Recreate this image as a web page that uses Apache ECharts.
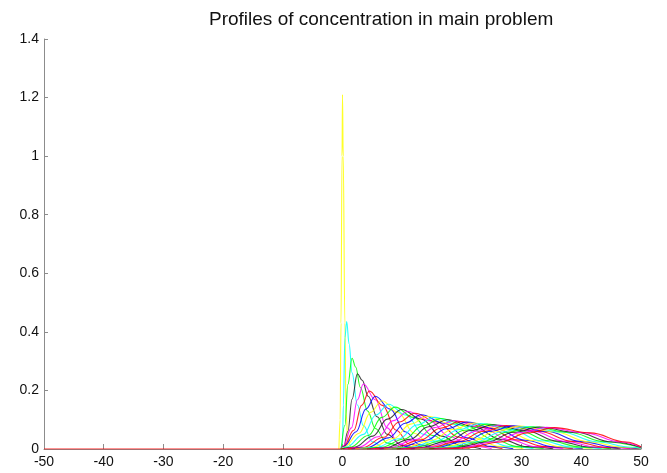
<!DOCTYPE html>
<html>
<head>
<meta charset="utf-8">
<script src="https://cdn.jsdelivr.net/npm/echarts@6/dist/echarts.min.js"></script>
<style>
  html, body { margin: 0; padding: 0; background: #fff; }
  #chart { width: 667px; height: 473px; }
</style>
</head>
<body>
<div id="chart"></div>
<script>
// profiles, [x, concentration]
const curve01 = [[-0.6, 0], [-0.4, 0.1], [-0.25, 0.43], [-0.08, 1.0], [0, 1.21], [0.12, 1.0], [0.4, 0.43], [0.6, 0.12], [0.9, 0.03], [1.4, 0]];
const curve02 = [[-0.3, 0], [0, 0.02], [0.15, 0.15], [0.4, 0.38], [0.7, 0.435], [1.1, 0.36], [1.6, 0.26], [2.5, 0.15], [3.5, 0.08], [5, 0.025], [7, 0.004], [9, 0]];
const curve03 = [[-0.2, 0], [0.4, 0.08], [0.9, 0.22], [1.6, 0.31], [2.2, 0.28], [3, 0.21], [4.2, 0.13], [5.5, 0.07], [7.5, 0.02], [10, 0.002]];
const curve04 = [[0.3, 0], [0.9, 0.06], [1.6, 0.17], [2.5, 0.257], [3.3, 0.235], [4.3, 0.18], [5.8, 0.11], [7.5, 0.05], [10, 0.012], [13, 0]];
const curve05 = [[-0.3, 0], [0.1, 0.01], [1.5, 0.072], [2.5, 0.168], [3.5, 0.222], [5.5, 0.168], [7.5, 0.072], [9.4, 0.018], [11.4, 0.002]];
const curve06 = [[-0.3, 0], [0.2, 0.009], [1.9, 0.064], [3.2, 0.149], [4.5, 0.198], [6.7, 0.149], [9.0, 0.064], [11.2, 0.016], [13.5, 0.002]];
const curve07 = [[-0.3, 0], [0.2, 0.008], [2.3, 0.059], [3.9, 0.136], [5.5, 0.18], [8.0, 0.136], [10.5, 0.059], [13.0, 0.014], [15.4, 0.002]];
const curve08 = [[-0.3, 0], [0.3, 0.007], [2.8, 0.054], [4.7, 0.125], [6.6, 0.165], [9.3, 0.125], [12.0, 0.054], [14.8, 0.013], [17.5, 0.002]];
const curve09 = [[-0.3, 0], [0.7, 0.007], [3.5, 0.05], [5.6, 0.116], [7.7, 0.153], [10.6, 0.116], [13.6, 0.05], [16.5, 0.012], [19.5, 0.002]];
const curve10 = [[-0.3, 0], [1.3, 0.006], [4.3, 0.046], [6.6, 0.108], [8.8, 0.143], [11.9, 0.108], [15.1, 0.046], [18.2, 0.011], [21.3, 0.002]];
const curve11 = [[-0.2, 0], [2.0, 0.006], [5.1, 0.044], [7.5, 0.102], [9.9, 0.135], [13.2, 0.102], [16.6, 0.044], [19.9, 0.011], [23.2, 0.001]];
const curve12 = [[0.3, 0], [2.7, 0.006], [6.0, 0.042], [8.5, 0.097], [11.0, 0.128], [14.5, 0.097], [18.0, 0.042], [21.5, 0.01], [25.0, 0.001]];
const curve13 = [[0.9, 0], [3.4, 0.005], [6.9, 0.04], [9.5, 0.092], [12.1, 0.122], [15.8, 0.092], [19.5, 0.04], [23.1, 0.01], [26.8, 0.001]];
const curve14 = [[1.5, 0], [4.1, 0.005], [7.7, 0.038], [10.5, 0.088], [13.2, 0.117], [17.0, 0.088], [20.9, 0.038], [24.7, 0.009], [28.6, 0.001]];
const curve15 = [[2.1, 0], [4.8, 0.005], [8.6, 0.036], [11.4, 0.085], [14.3, 0.112], [18.3, 0.085], [22.3, 0.036], [26.3, 0.009], [30.3, 0.001]];
const curve16 = [[2.8, 0], [5.5, 0.005], [9.5, 0.035], [12.4, 0.082], [15.4, 0.108], [19.6, 0.082], [23.7, 0.035], [27.8, 0.009], [32.0, 0.001]];
const curve17 = [[3.4, 0], [6.3, 0.005], [10.4, 0.034], [13.4, 0.079], [16.5, 0.104], [20.8, 0.079], [25.1, 0.034], [29.4, 0.008], [33.7, 0.001]];
const curve18 = [[4.1, 0], [7.1, 0.004], [11.3, 0.033], [14.4, 0.076], [17.6, 0.1], [22.0, 0.076], [26.5, 0.033], [30.9, 0.008], [35.3, 0.001]];
const curve19 = [[4.8, 0], [7.8, 0.004], [12.2, 0.032], [15.4, 0.073], [18.7, 0.097], [23.3, 0.073], [27.9, 0.032], [32.4, 0.008], [37.0, 0.001]];
const curve20 = [[5.4, 0], [8.6, 0.004], [13.1, 0.031], [16.4, 0.071], [19.8, 0.094], [24.5, 0.071], [29.2, 0.031], [33.9, 0.008], [38.6, 0.001]];
const curve21 = [[6.2, 0], [9.4, 0.004], [14.0, 0.03], [17.4, 0.069], [20.9, 0.092], [25.7, 0.069], [30.6, 0.03], [35.4, 0.007], [40.3, 0.001]];
const curve22 = [[6.9, 0], [10.2, 0.004], [14.9, 0.029], [18.5, 0.067], [22.0, 0.089], [27.0, 0.067], [31.9, 0.029], [36.9, 0.007], [41.9, 0.001]];
const curve23 = [[7.6, 0], [11.0, 0.004], [15.8, 0.028], [19.5, 0.066], [23.1, 0.087], [28.2, 0.066], [33.3, 0.028], [38.3, 0.007], [43.4, 0.001]];
const curve24 = [[8.3, 0], [11.8, 0.004], [16.8, 0.028], [20.5, 0.064], [24.2, 0.085], [29.4, 0.064], [34.6, 0.028], [39.8, 0.007], [45.0, 0.001]];
const curve25 = [[9.1, 0], [12.6, 0.004], [17.7, 0.027], [21.5, 0.063], [25.3, 0.083], [30.6, 0.063], [36.0, 0.027], [41.3, 0.007], [46.6, 0.001]];
const curve26 = [[9.8, 0], [13.5, 0.004], [18.6, 0.026], [22.5, 0.061], [26.4, 0.081], [31.8, 0.061], [37.3, 0.026], [42.7, 0.006], [48.2, 0.001]];
const curve27 = [[10.6, 0], [14.3, 0.004], [19.6, 0.026], [23.5, 0.06], [27.5, 0.08], [33.0, 0.06], [38.6, 0.026], [44.1, 0.006], [49.7, 0.001]];
const curve28 = [[11.4, 0], [15.1, 0.003], [20.5, 0.026], [24.6, 0.06], [28.6, 0.079], [34.3, 0.06], [39.9, 0.026], [45.6, 0.006], [50, 0.002]];
const curve29 = [[12.1, 0], [16.0, 0.003], [21.5, 0.025], [25.6, 0.059], [29.7, 0.078], [35.5, 0.059], [41.2, 0.025], [47.0, 0.006], [50, 0.003]];
const curve30 = [[12.9, 0], [16.8, 0.003], [22.4, 0.025], [26.6, 0.058], [30.8, 0.077], [36.7, 0.058], [42.5, 0.025], [48.4, 0.006], [50, 0.004]];
const curve31 = [[13.7, 0], [17.7, 0.003], [23.4, 0.025], [27.6, 0.057], [31.9, 0.076], [37.9, 0.057], [43.9, 0.025], [50, 0.005]];
const curve32 = [[14.5, 0], [18.5, 0.003], [24.3, 0.024], [28.7, 0.057], [33.0, 0.075], [39.1, 0.057], [45.2, 0.024], [50, 0.006]];
const curve33 = [[15.4, 0], [19.5, 0.003], [25.4, 0.024], [29.8, 0.056], [34.2, 0.074], [40.4, 0.056], [46.6, 0.024], [50, 0.007]];
const curve34 = [[-50, 0], [16.3, 0], [20.5, 0.003], [26.5, 0.024], [31.0, 0.055], [35.5, 0.073], [41.5, 0.055], [47.5, 0.024], [50, 0.008]];

const profiles = [
  curve01, curve02, curve03, curve04, curve05, curve06, curve07, curve08, curve09, curve10,
  curve11, curve12, curve13, curve14, curve15, curve16, curve17, curve18, curve19, curve20,
  curve21, curve22, curve23, curve24, curve25, curve26, curve27, curve28, curve29, curve30,
  curve31, curve32, curve33, curve34,
];

// matlab-ish colour cycle
const lineColors = ["#ffff00", "#00ffff", "#00ff00", "#222222", "#ff00ff", "#ff0000", "#0000ff"];

const xTicks = { min: -50, max: 50, step: 10 };
const yTicks = { min: 0, max: 1.4, step: 0.2 };

const chart = echarts.init(document.getElementById("chart"));

chart.setOption({
  animation: false,
  backgroundColor: "#ffffff",
  title: {
    text: "Profiles of concentration in main problem",
    left: 209,
    top: 10,
    padding: 0,
    textStyle: {
      fontFamily: "Liberation Sans",
      fontSize: 19,
      fontWeight: "normal",
      color: "#111",
    },
  },
  grid: {
    left: 44,
    right: 26,
    top: 39,
    bottom: 24,
    containLabel: false,
    outerBoundsMode: "none",
  },
  xAxis: {
    type: "value",
    min: xTicks.min,
    max: xTicks.max,
    interval: xTicks.step,
    axisLine: { onZero: false, lineStyle: { color: "#8c8c8c", width: 1 } },
    axisTick: { inside: true, length: 5, lineStyle: { color: "#8c8c8c" } },
    axisLabel: {
      margin: 6,
      fontFamily: "Liberation Sans",
      fontSize: 14,
      color: "#111",
    },
    splitLine: { show: false },
  },
  yAxis: {
    type: "value",
    min: yTicks.min,
    max: yTicks.max,
    interval: yTicks.step,
    axisLine: { show: true, onZero: false, lineStyle: { color: "#8c8c8c", width: 1 } },
    axisTick: { show: true, inside: true, length: 4, lineStyle: { color: "#8c8c8c" } },
    axisLabel: {
      margin: 5,
      fontFamily: "Liberation Sans",
      fontSize: 14,
      color: "#111",
    },
    splitLine: { show: false },
  },
  series: profiles.map((pts, i) => ({
    type: "line",
    data: pts,
    symbol: "none",
    smooth: 0.4,
    smoothMonotone: "x",
    lineStyle: { color: lineColors[i % lineColors.length], width: 1.1, opacity: 0.85 },
    silent: true,
  })),
});

window.addEventListener("resize", () => chart.resize());
</script>
</body>
</html>
